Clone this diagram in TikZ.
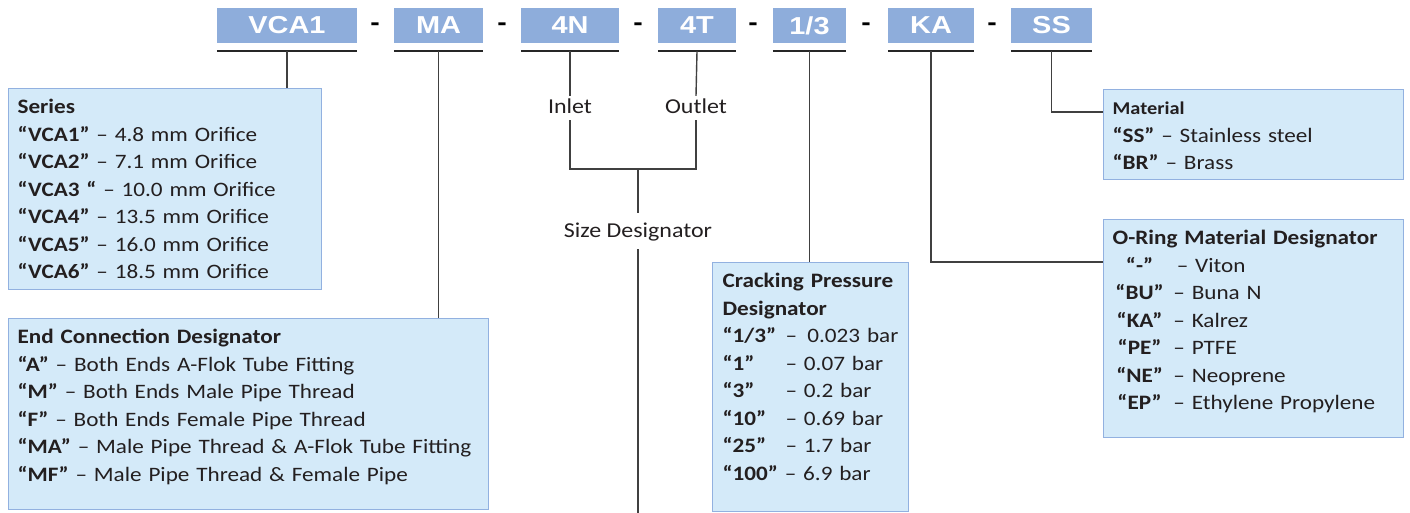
\documentclass[tikz,border=0pt]{standalone}
\usepackage{fontspec}
\setmainfont{Carlito}[FakeStretch=1.13]
\newfontfamily\hdrfont{Liberation Sans}[FakeStretch=1.18]
\usetikzlibrary{positioning}

\definecolor{hdrblue}{HTML}{8EADDB}
\definecolor{boxblue}{HTML}{D4EAF9}
\definecolor{boxedge}{HTML}{92B1E0}
\definecolor{leadgray}{HTML}{404040}
\definecolor{inkgray}{HTML}{231F20}

\tikzset{
  code/.style={fill=hdrblue, text=white, font=\hdrfont\bfseries\fontsize{24.5}{24}\selectfont,
    minimum height=35pt, inner sep=0pt},
  sepdash/.style={font=\hdrfont\bfseries\fontsize{24}{24}\selectfont, inner sep=0pt},
  info/.style={draw=boxedge, line width=1.2pt, fill=boxblue, anchor=north west, align=left,
    inner xsep=9pt, inner ysep=4pt, text height=21pt, text=inkgray,
    font=\fontsize{20.5}{27.5}\selectfont},
  lead/.style={draw=leadgray, line width=1.4pt},
  uline/.style={draw=black!85, line width=1.6pt},
  plain/.style={text=inkgray, font=\fontsize{21.2}{24}\selectfont, text height=16pt, text depth=4pt}
}

\begin{document}
\begin{tikzpicture}[x=1pt, y=-1pt]

     \useasboundingbox (0,0) rectangle (1410,513);

     % code boxes
     \node[code, minimum width=140pt] (vca) at (287,25.5) {VCA1};%
     \node[code, minimum width=89pt] (ma) at (438.5,25.5) {MA};%
     \node[code, minimum width=98pt] (sz4n) at (570,25.5) {4N};%
     \node[code, minimum width=78pt] (sz4t) at (697,25.5) {4T};%
     \node[code, minimum width=73pt] (cp) at (809.5,25.5) {1/3};%
     \node[code, minimum width=86pt] (kar) at (931,25.5) {KA};%
     \node[code, minimum width=81pt] (ss) at (1051.5,25.5) {SS};%

     \foreach \x/\n in {375/1, 502/2, 638/3, 753/4, 866/5, 992/6}
       \node[sepdash] (dash\n) at (\x,27) {-};

     \foreach \c in {vca, ma, sz4n, sz4t, cp, kar, ss}
       \draw[uline] ([yshift=-8pt]\c.south west) -- ([yshift=-8pt]\c.south east);

     % designator boxes
     \node[info, text width=295pt, text depth=172pt] (series) at (8,88)
     {\textbf{Series}\\
      \textbf{“VCA1”} – 4.8 mm Orifice\\
      \textbf{“VCA2”} – 7.1 mm Orifice\\
      \textbf{“VCA3 “} – 10.0 mm Orifice\\
      \textbf{“VCA4”} – 13.5 mm Orifice\\
      \textbf{“VCA5”} – 16.0 mm Orifice\\
      \textbf{“VCA6”} – 18.5 mm Orifice};

     \node[info, text width=462pt, text depth=162pt] (endconn) at (8,318)
     {\textbf{End Connection Designator}\\
      \textbf{“A”} – Both Ends A-Flok Tube Fitting\\
      \textbf{“M”} – Both Ends Male Pipe Thread\\
      \textbf{“F”} – Both Ends Female Pipe Thread\\
      \textbf{“MA”} – Male Pipe Thread \& A-Flok Tube Fitting\\
      \textbf{“MF”} – Male Pipe Thread \& Female Pipe};

     \node[info, text width=176pt, inner xsep=10pt, text depth=220pt] (crack) at (712,262)
     {\textbf{Cracking Pressure}\\
      \textbf{Designator}\\
      \makebox[63pt][l]{\textbf{“1/3”}}–\enspace 0.023 bar\\
      \makebox[63pt][l]{\textbf{“1”}}– 0.07 bar\\
      \makebox[63pt][l]{\textbf{“3”}}– 0.2 bar\\
      \makebox[63pt][l]{\textbf{“10”}}– 0.69 bar\\
      \makebox[63pt][l]{\textbf{“25”}}– 1.7 bar\\
      \textbf{“100”} – 6.9 bar};

     \node[info, text width=282pt, text depth=61pt] (material) at (1103,89)
     {{\fontsize{18}{20}\selectfont\textbf{Material}}\\
      \textbf{“SS”} – Stainless steel\\
      \textbf{“BR”} – Brass};

     \node[info, text width=282pt, text depth=189pt] (oring) at (1103,219)
     {\textbf{O-Ring Material Designator}\\
      \makebox[54pt][c]{\textbf{“-”}} \,– Viton\\
      \makebox[54pt][c]{\textbf{“BU”}} – Buna N\\
      \makebox[54pt][c]{\textbf{“KA”}} – Kalrez\\
      \makebox[54pt][c]{\textbf{“PE”}} – PTFE\\
      \makebox[54pt][c]{\textbf{“NE”}} – Neoprene\\
      \makebox[54pt][c]{\textbf{“EP”}} – Ethylene Propylene};

     % size labels
     \node[plain, inner ysep=2pt] (inlet) at (570,108) {Inlet};%
     \node[plain, inner ysep=2pt] (outlet) at (696,108) {Outlet};%
     \node[plain, inner ysep=8pt] (sizedes) at (638,231) {Size Designator};%
     \coordinate (joint) at (638,169);
     \coordinate (bottom) at (638,513);

     % edges
     \draw[lead] ([yshift=-8pt]vca.south) -- (vca.south |- series.north);
     \draw[lead] ([yshift=-8pt]ma.south) -- (ma.south |- endconn.north);
     \draw[lead] ([yshift=-8pt]sz4n.south) -- (inlet.north);
     \draw[lead] ([yshift=-8pt]sz4t.south) -- (outlet.north);
     \draw[lead] (inlet.south) |- (joint) -| (outlet.south);
     \draw[lead] (joint) -- (sizedes.north);
     \draw[lead] (sizedes.south) -- (bottom);
     \draw[lead] ([yshift=-8pt]cp.south) -- (cp.south |- crack.north);
     \draw[lead] ([yshift=-8pt]kar.south) |- ([yshift=-43pt]oring.north west);
     \draw[lead] ([yshift=-8pt]ss.south) |- ([yshift=-23pt]material.north west);

\end{tikzpicture}
\end{document}
